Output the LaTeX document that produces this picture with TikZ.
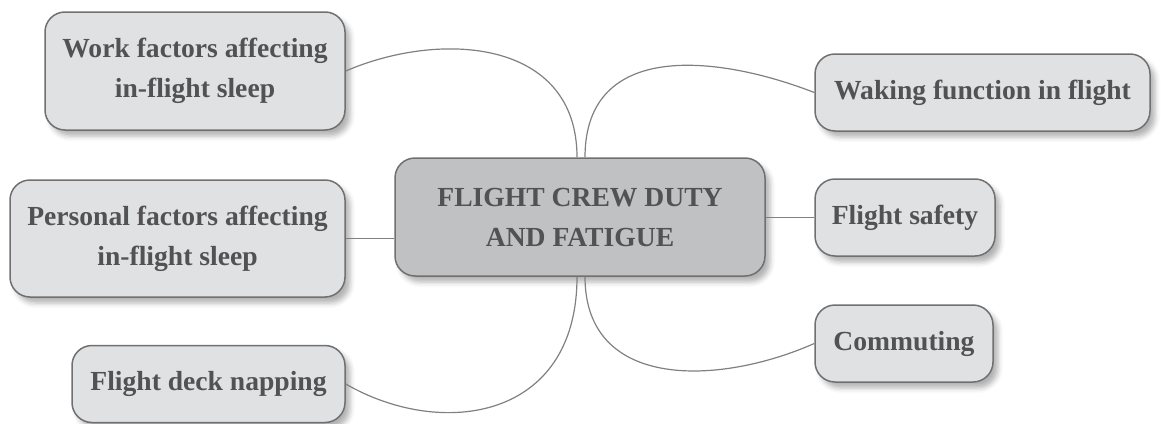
\documentclass[tikz,border=0pt]{standalone}
\usepackage{fontspec}
\setmainfont{Liberation Serif}
\usepackage{xcolor}
\usepackage{tikz}
\usetikzlibrary{positioning, shadows.blur, calc}
\definecolor{leafbg}{RGB}{224,225,227}
\definecolor{hubbg}{RGB}{192,193,195}
\definecolor{rimgray}{RGB}{112,112,112}
\definecolor{inkgray}{RGB}{82,82,82}
\definecolor{wiregray}{RGB}{128,128,128}

\begin{document}
\begin{tikzpicture}[x=0.5pt, y=-0.5pt,
  box/.style={draw=rimgray, line width=0.75pt, rounded corners=10pt, align=center, text=inkgray,
    font=\fontsize{13.8}{20}\selectfont\bfseries, inner sep=2pt,
    blur shadow={shadow xshift=2.5pt, shadow yshift=-3pt, shadow blur radius=2.5pt, shadow opacity=30}},
  leaf/.style={box, fill=leafbg, minimum height=38.5pt},
  hub/.style={box, fill=hubbg, minimum width=185pt, minimum height=59pt},
  wire/.style={draw=wiregray, line width=0.6pt}
]
  \useasboundingbox (0,0) rectangle (1161,423);

  \node[hub] (hub) at (580,217) {FLIGHT CREW DUTY\\AND FATIGUE};

  \node[leaf, minimum width=150pt, minimum height=59pt] (work) at (195,71) {Work factors affecting\\in-flight sleep};
  \node[leaf, minimum width=167.5pt, minimum height=58.5pt] (personal) at (177.5,238.5) {Personal factors affecting\\in-flight sleep};
  \node[leaf, minimum width=136.5pt] (napping) at (208.5,384) {Flight deck napping};
  \node[leaf, minimum width=167.5pt] (waking) at (982.5,92.5) {Waking function in flight};
  \node[leaf, minimum width=90pt] (safety) at (905,217.5) {Flight safety};
  \node[leaf, minimum width=89pt] (commute) at (904,343.5) {Commuting};

  % branches into the hub
  \draw[wire] (work.east) .. controls +(95,-41) and +(0,-118) .. ([xshift=-1.5pt]hub.north);
  \draw[wire] (waking.west) .. controls +(-95,-37) and +(0,-118) .. ([xshift=2.5pt]hub.north);
  \draw[wire] (napping.east) .. controls +(95,55) and +(0,144) .. ([xshift=-1.5pt]hub.south);
  \draw[wire] (commute.west) .. controls +(-95,42) and +(0,114) .. ([xshift=2.5pt]hub.south);
  \draw[wire] (personal.east) -- (personal.east -| hub.west);
  \draw[wire] (safety.west) -- (safety.west -| hub.east);
\end{tikzpicture}
\end{document}
